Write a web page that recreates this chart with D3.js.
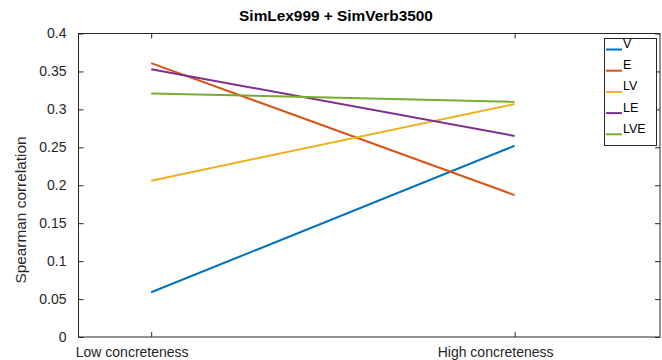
<!DOCTYPE html>
<html><head><meta charset="utf-8">
<script src="https://cdn.jsdelivr.net/npm/d3@7"></script>
<style>body{margin:0;background:#fff}svg{display:block;font-family:"Liberation Sans",Arial,sans-serif}</style>
</head><body><svg id="c" width="662" height="360"></svg>
<script>
const categories = ["Low concreteness", "High concreteness"];
const seriesNames = ["V", "E", "LV", "LE", "LVE"];
const V   = [0.059, 0.252];
const E   = [0.361, 0.187];
const LV  = [0.206, 0.307];
const LE  = [0.353, 0.265];
const LVE = [0.321, 0.310];
const yTicks = [0, 0.05, 0.1, 0.15, 0.2, 0.25, 0.3, 0.35, 0.4];
const yTickLabels = ["0", "0.05", "0.1", "0.15", "0.2", "0.25", "0.3", "0.35", "0.4"];
const colors = ["#0072BD", "#D95319", "#EDB120", "#7E2F8E", "#77AC30"];
const seriesValues = [V, E, LV, LE, LVE];

const svg = d3.select("#c");
const L = 78.5, R = 660, T = 33.5, B = 337;
const x = d3.scaleLinear().domain([0.8, 2.4]).range([L, R]);
const y = d3.scaleLinear().domain([0, 0.4]).range([B, T]);
const axisCol = "#262626";

// box
svg.append("rect").attr("x", L).attr("y", T).attr("width", R - L).attr("height", B - T)
  .attr("fill", "none").attr("stroke", axisCol).attr("stroke-width", 1);

// y axis left (ticks inward)
const ya = svg.append("g").attr("transform", `translate(${L},0)`)
  .call(d3.axisLeft(y).tickValues(yTicks).tickFormat((d, i) => yTickLabels[i]).tickSizeInner(-5).tickSizeOuter(0).tickPadding(12));
ya.select(".domain").remove();
ya.selectAll("line").attr("stroke", axisCol);
ya.selectAll("text").attr("fill", axisCol).attr("font-size", "14px").attr("font-family", "Liberation Sans, Arial, sans-serif");
// y axis right ticks
const yr = svg.append("g").attr("transform", `translate(${R},0)`)
  .call(d3.axisRight(y).tickValues(yTicks).tickFormat("").tickSizeInner(-5).tickSizeOuter(0));
yr.select(".domain").remove();
yr.selectAll("line").attr("stroke", axisCol);

// x axis bottom
const xa = svg.append("g").attr("transform", `translate(0,${B})`)
  .call(d3.axisBottom(x).tickValues([1, 2]).tickFormat((d, i) => categories[i]).tickSizeInner(-5).tickSizeOuter(0).tickPadding(10));
xa.select(".domain").remove();
xa.selectAll("line").attr("stroke", axisCol);
xa.selectAll("text").attr("fill", axisCol).attr("font-size", "14px").attr("dx", "-19.5")
  .attr("font-family", "Liberation Sans, Arial, sans-serif");
const xt = svg.append("g").attr("transform", `translate(0,${T})`)
  .call(d3.axisTop(x).tickValues([1, 2]).tickFormat("").tickSizeInner(-5).tickSizeOuter(0));
xt.select(".domain").remove();
xt.selectAll("line").attr("stroke", axisCol);

// lines
const line = d3.line().x((d, i) => x(i + 1)).y(d => y(d));
seriesValues.forEach((vals, k) => {
  svg.append("path").datum(vals).attr("d", line).attr("fill", "none")
    .attr("stroke", colors[k]).attr("stroke-width", 2);
});

// title
svg.append("text").attr("x", 336).attr("y", 21).attr("text-anchor", "middle")
  .attr("font-size", "15.4px").attr("font-weight", "bold").attr("fill", "#000")
  .text("SimLex999 + SimVerb3500");

// y label
svg.append("text").attr("transform", "translate(26,210) rotate(-90)").attr("text-anchor", "middle")
  .attr("font-size", "15.4px").attr("fill", axisCol).text("Spearman correlation");

// legend
const lg = svg.append("g");
lg.append("rect").attr("x", 604.5).attr("y", 38.5).attr("width", 52).attr("height", 107)
  .attr("fill", "#fff").attr("stroke", axisCol).attr("stroke-width", 1);
seriesNames.forEach((n, k) => {
  const yy = 49.5 + k * 21.2;
  lg.append("line").attr("x1", 606).attr("x2", 622).attr("y1", yy).attr("y2", yy)
    .attr("stroke", colors[k]).attr("stroke-width", 2);
  lg.append("text").attr("x", 623).attr("y", yy - 1.5).attr("font-size", "12.5px").attr("fill", "#000").text(n);
});
</script></body></html>
